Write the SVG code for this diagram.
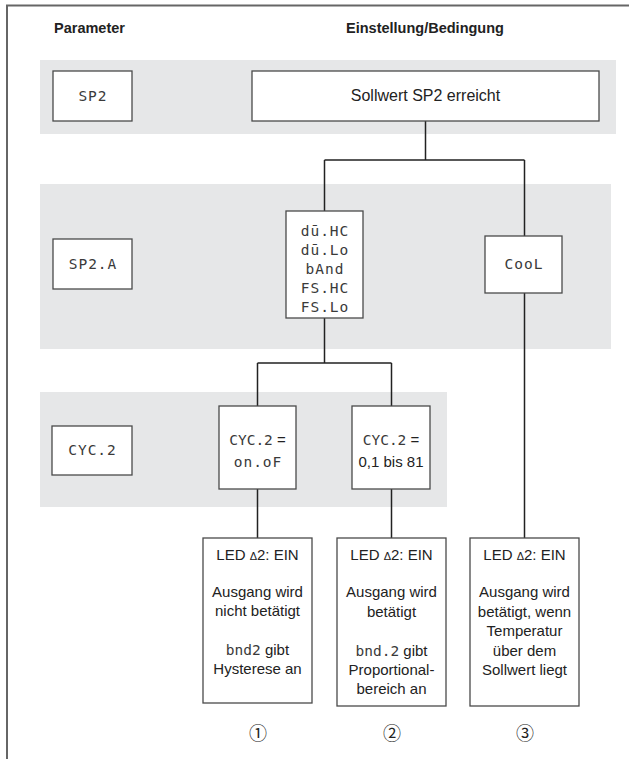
<svg xmlns="http://www.w3.org/2000/svg" width="629" height="759" viewBox="0 0 629 759">
  <style>
    .band { fill: #e6e7e8; }
    .box { fill: #ffffff; stroke: #4a4a4a; stroke-width: 1.3; }
    .wire { fill: none; stroke: #222222; stroke-width: 1.5; }
    .frame { fill: none; stroke: #666666; stroke-width: 2; }
    .head { font-family: "Liberation Sans", Arial, sans-serif; font-weight: bold; font-size: 14.5px; fill: #222222; }
    .txt { font-family: "Liberation Sans", Arial, sans-serif; font-size: 15px; fill: #222222; text-anchor: middle; }
    .big { font-size: 16px; }
    .seg { font-family: "DejaVu Sans Mono", monospace; font-size: 14.5px; fill: #3a3a3a; text-anchor: middle; letter-spacing: 1px; }
    .lcd { font-family: "DejaVu Sans Mono", monospace; font-size: 14.5px; fill: #3a3a3a; }
    .num { font-family: "Noto Sans CJK JP", "DejaVu Sans", sans-serif; font-size: 18px; fill: #222222; text-anchor: middle; }
  </style>

  <!-- page frame (top and left edges) -->
  <path class="frame" d="M7 759 V5.5 H629"/>

  <!-- column headings -->
  <text class="head" x="54" y="33">Parameter</text>
  <text class="head" x="425" y="33" text-anchor="middle">Einstellung/Bedingung</text>

  <!-- parameter rows -->
  <rect class="band" x="40" y="60" width="576" height="74"/>
  <rect class="band" x="40" y="184" width="571" height="165"/>
  <rect class="band" x="40" y="392" width="407" height="115"/>

  <!-- connectors -->
  <g id="connectors">
    <path class="wire" d="M425.5 121 V160 M324.5 160 H524.5 M324.5 160 V211 M524.5 160 V236"/>
    <path class="wire" d="M324.5 318 V363 M257.5 363 H391.5 M257.5 363 V406 M391.5 363 V406"/>
    <path class="wire" d="M257.5 489 V538 M391.5 489 V538 M524.5 293 V538"/>
  </g>

  <!-- row 1 -->
  <g id="p-sp2">
    <rect class="box" x="53" y="71" width="79" height="50"/>
    <text class="seg" x="93" y="101">SP2</text>
  </g>
  <g id="sp2-reached">
    <rect class="box" x="252" y="71" width="347" height="50"/>
    <text class="txt big" x="425.5" y="101">Sollwert SP2 erreicht</text>
  </g>

  <!-- row 2 -->
  <g id="p-sp2a">
    <rect class="box" x="53" y="239" width="79" height="50"/>
    <text class="seg" x="93" y="269">SP2.A</text>
  </g>
  <g id="alarm-modes">
    <rect class="box" x="286" y="211" width="77" height="107"/>
    <text class="seg" x="325" y="236">dū.HC</text>
    <text class="seg" x="325" y="255">dū.Lo</text>
    <text class="seg" x="325" y="274">bAnd</text>
    <text class="seg" x="325" y="293">FS.HC</text>
    <text class="seg" x="325" y="312">FS.Lo</text>
  </g>
  <g id="cool">
    <rect class="box" x="485" y="236" width="77" height="57"/>
    <text class="seg" x="524" y="269">CooL</text>
  </g>

  <!-- row 3 -->
  <g id="p-cyc2">
    <rect class="box" x="52" y="426" width="80" height="49"/>
    <text class="seg" x="92.5" y="455">CYC.2</text>
  </g>
  <g id="cyc-onof">
    <rect class="box" x="219" y="406" width="77" height="83"/>
    <text class="txt" x="257.5" y="445"><tspan class="lcd">CYC.2</tspan> =</text>
    <text class="seg" x="258" y="467">on.oF</text>
  </g>
  <g id="cyc-range">
    <rect class="box" x="352" y="406" width="78" height="83"/>
    <text class="txt" x="391" y="445"><tspan class="lcd">CYC.2</tspan> =</text>
    <text class="txt" x="391" y="467">0,1 bis 81</text>
  </g>

  <!-- results -->
  <g id="result-1">
    <rect class="box" x="203" y="538" width="109" height="165"/>
    <text class="txt" x="257.5" y="560">LED <tspan font-size="11">Δ</tspan>2: EIN</text>
    <text class="txt" x="257.5" y="597">Ausgang wird</text>
    <text class="txt" x="257.5" y="616">nicht betätigt</text>
    <text class="txt" x="257.5" y="655"><tspan class="lcd">bnd2</tspan> gibt</text>
    <text class="txt" x="257.5" y="674">Hysterese an</text>
  </g>
  <g id="result-2">
    <rect class="box" x="337" y="538" width="109" height="168"/>
    <text class="txt" x="391.5" y="560">LED <tspan font-size="11">Δ</tspan>2: EIN</text>
    <text class="txt" x="391.5" y="597">Ausgang wird</text>
    <text class="txt" x="391.5" y="617">betätigt</text>
    <text class="txt" x="391.5" y="656"><tspan class="lcd">bnd.2</tspan> gibt</text>
    <text class="txt" x="391.5" y="675">Proportional-</text>
    <text class="txt" x="391.5" y="694">bereich an</text>
  </g>
  <g id="result-3">
    <rect class="box" x="470" y="538" width="109" height="168"/>
    <text class="txt" x="524.5" y="560">LED <tspan font-size="11">Δ</tspan>2: EIN</text>
    <text class="txt" x="524.5" y="597">Ausgang wird</text>
    <text class="txt" x="524.5" y="617">betätigt, wenn</text>
    <text class="txt" x="524.5" y="636">Temperatur</text>
    <text class="txt" x="524.5" y="656">über dem</text>
    <text class="txt" x="524.5" y="675">Sollwert liegt</text>
  </g>

  <!-- case numbers -->
  <text class="num" x="258" y="740">①</text>
  <text class="num" x="392" y="740">②</text>
  <text class="num" x="525" y="740">③</text>
</svg>
